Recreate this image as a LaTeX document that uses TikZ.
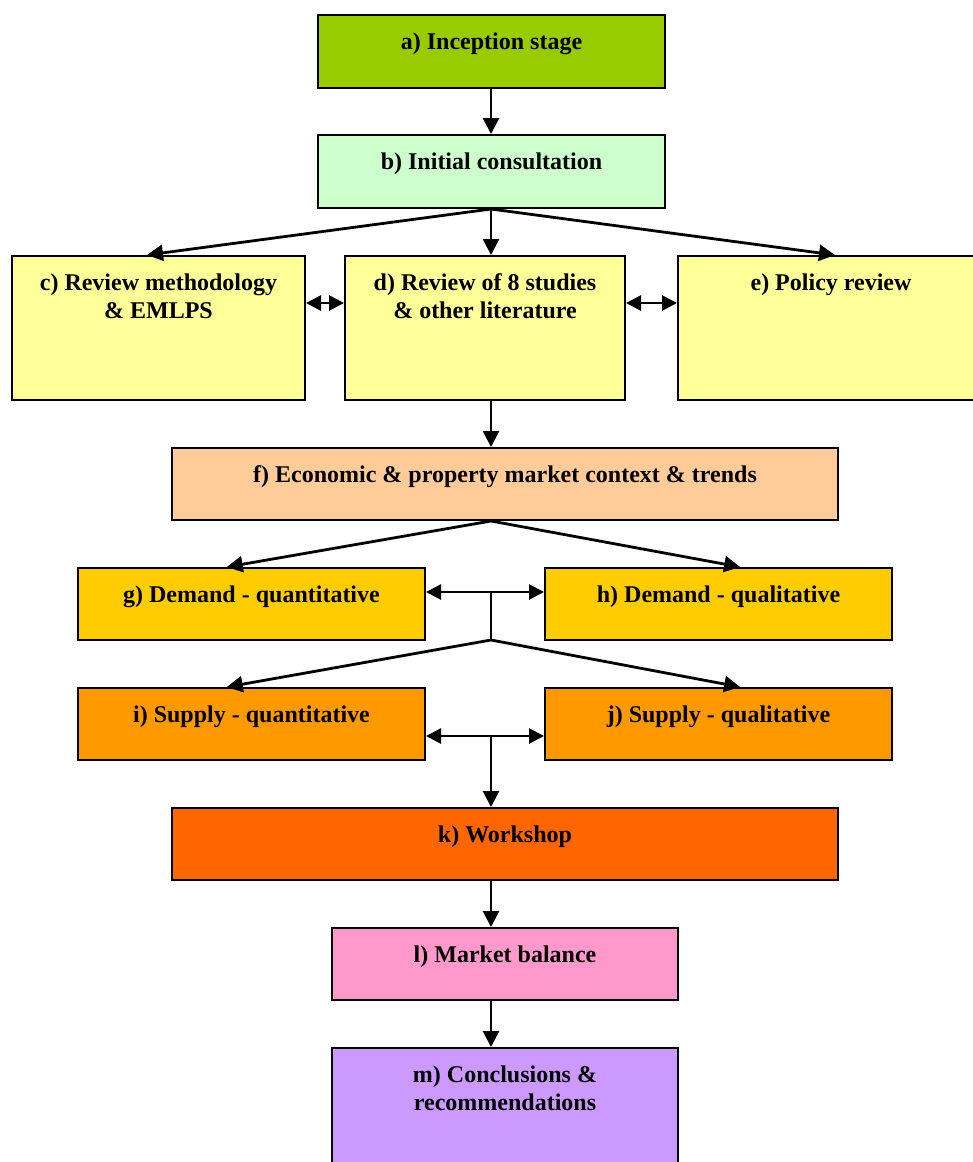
\documentclass[tikz,border=0pt]{standalone}
\usepackage{fontspec}
\setmainfont{Liberation Serif}
\usetikzlibrary{arrows.meta,fit,calc}
\definecolor{cA}{HTML}{99CC00}
\definecolor{cB}{HTML}{CCFFCC}
\definecolor{cC}{HTML}{FFFF99}
\definecolor{cF}{HTML}{FFCC99}
\definecolor{cG}{HTML}{FFCC00}
\definecolor{cI}{HTML}{FF9900}
\definecolor{cK}{HTML}{FF6600}
\definecolor{cL}{HTML}{FF99CC}
\definecolor{cM}{HTML}{CC99FF}
\tikzset{
  box/.style={draw=black, line width=1pt, inner sep=0pt, rectangle},
  lbl/.style={anchor=north, inner sep=0pt, align=center,
    font=\fontsize{12}{14}\selectfont\bfseries},
  arr/.style={line width=1.4pt, -{Triangle[length=8pt,width=8pt]}},
  darr/.style={line width=1.4pt, {Triangle[length=7.5pt,width=7.5pt]}-{Triangle[length=7.5pt,width=7.5pt]}},
  con/.style={line width=1.4pt}
}
\begin{document}
\begin{tikzpicture}[x=0.5pt,y=-0.5pt]
\clip (0,0) rectangle (973,1162);
\fill[white] (0,0) rectangle (973,1162);
% boxes
\node[box, fill=cA, fit={(318,15) (665,88)}] (a) {};
\node[box, fill=cB, fit={(318,135) (665,208)}] (b) {};
\node[box, fill=cC, fit={(12,256) (305,400)}] (c) {};
\node[box, fill=cC, fit={(345,256) (625,400)}] (d) {};
\node[box, fill=cC, fit={(678,256) (984,400)}] (e) {};
\node[box, fill=cF, fit={(172,448) (838,520)}] (f) {};
\node[box, fill=cG, fit={(78,568) (425,640)}] (g) {};
\node[box, fill=cG, fit={(545,568) (892,640)}] (h) {};
\node[box, fill=cI, fit={(78,688) (425,760)}] (i) {};
\node[box, fill=cI, fit={(545,688) (892,760)}] (j) {};
\node[box, fill=cK, fit={(172,808) (838,880)}] (k) {};
\node[box, fill=cL, fit={(332,928) (678,1000)}] (l) {};
\node[box, fill=cM, fit={(332,1048) (678,1210)}] (m) {};
% labels
\node[lbl] (ta) at ([yshift=-9pt]a.north) {a) Inception stage};
\node[lbl] (tb) at ([yshift=-9pt]b.north) {b) Initial consultation};
\node[lbl] (tc) at ([yshift=-9pt]c.north) {c) Review methodology\\ \& EMLPS};
\node[lbl] (td) at ([yshift=-9pt]d.north) {d) Review of 8 studies\\ \& other literature};
\node[lbl] (te) at ([yshift=-9pt]e.north) {e) Policy review};
\node[lbl] (tf) at ([yshift=-9pt]f.north) {f) Economic \& property market context \& trends};
\node[lbl] (tg) at ([yshift=-9pt]g.north) {g) Demand - quantitative};
\node[lbl] (th) at ([yshift=-9pt]h.north) {h) Demand - qualitative};
\node[lbl] (ti) at ([yshift=-9pt]i.north) {i) Supply - quantitative};
\node[lbl] (tj) at ([yshift=-9pt]j.north) {j) Supply - qualitative};
\node[lbl] (tk) at ([yshift=-9pt]k.north) {k) Workshop};
\node[lbl] (tl) at ([yshift=-9pt]l.north) {l) Market balance};
\node[lbl] (tm) at ([yshift=-9pt]m.north) {m) Conclusions \&\\ recommendations};
% junction coordinates
\coordinate (cd) at (325,303);
\coordinate (de) at (651,303);
\coordinate (gh) at (491,592);
\coordinate (jn) at (491,640);
\coordinate (ij) at (491,736);
% connectors
\draw[arr] (a.south -| gh) -- (b.north -| gh);
\draw[arr] (b.south -| gh) -- ($(c.north west)!0.461!(c.north east)$);
\draw[arr] (b.south -| gh) -- (d.north -| gh);
\draw[arr] (b.south -| gh) -- ($(e.north west)!0.513!(e.north east)$);
\draw[darr] (cd -| c.east) -- (cd -| d.west);
\draw[darr] (de -| d.east) -- (de -| e.west);
\draw[arr] (d.south -| gh) -- (f.north -| gh);
\draw[arr] (f.south -| gh) -- ($(g.north west)!0.429!(g.north east)$);
\draw[arr] (f.south -| gh) -- ($(h.north west)!0.562!(h.north east)$);
\draw[darr] (gh -| g.east) -- (gh -| h.west);
\draw[con] (gh) -- (jn);
\draw[arr] (jn) -- ($(i.north west)!0.429!(i.north east)$);
\draw[arr] (jn) -- ($(j.north west)!0.562!(j.north east)$);
\draw[darr] (ij -| i.east) -- (ij -| j.west);
\draw[arr] (ij) -- (ij |- k.north);
\draw[arr] (k.south -| gh) -- (l.north -| gh);
\draw[arr] (l.south -| gh) -- (m.north -| gh);
\end{tikzpicture}
\end{document}
